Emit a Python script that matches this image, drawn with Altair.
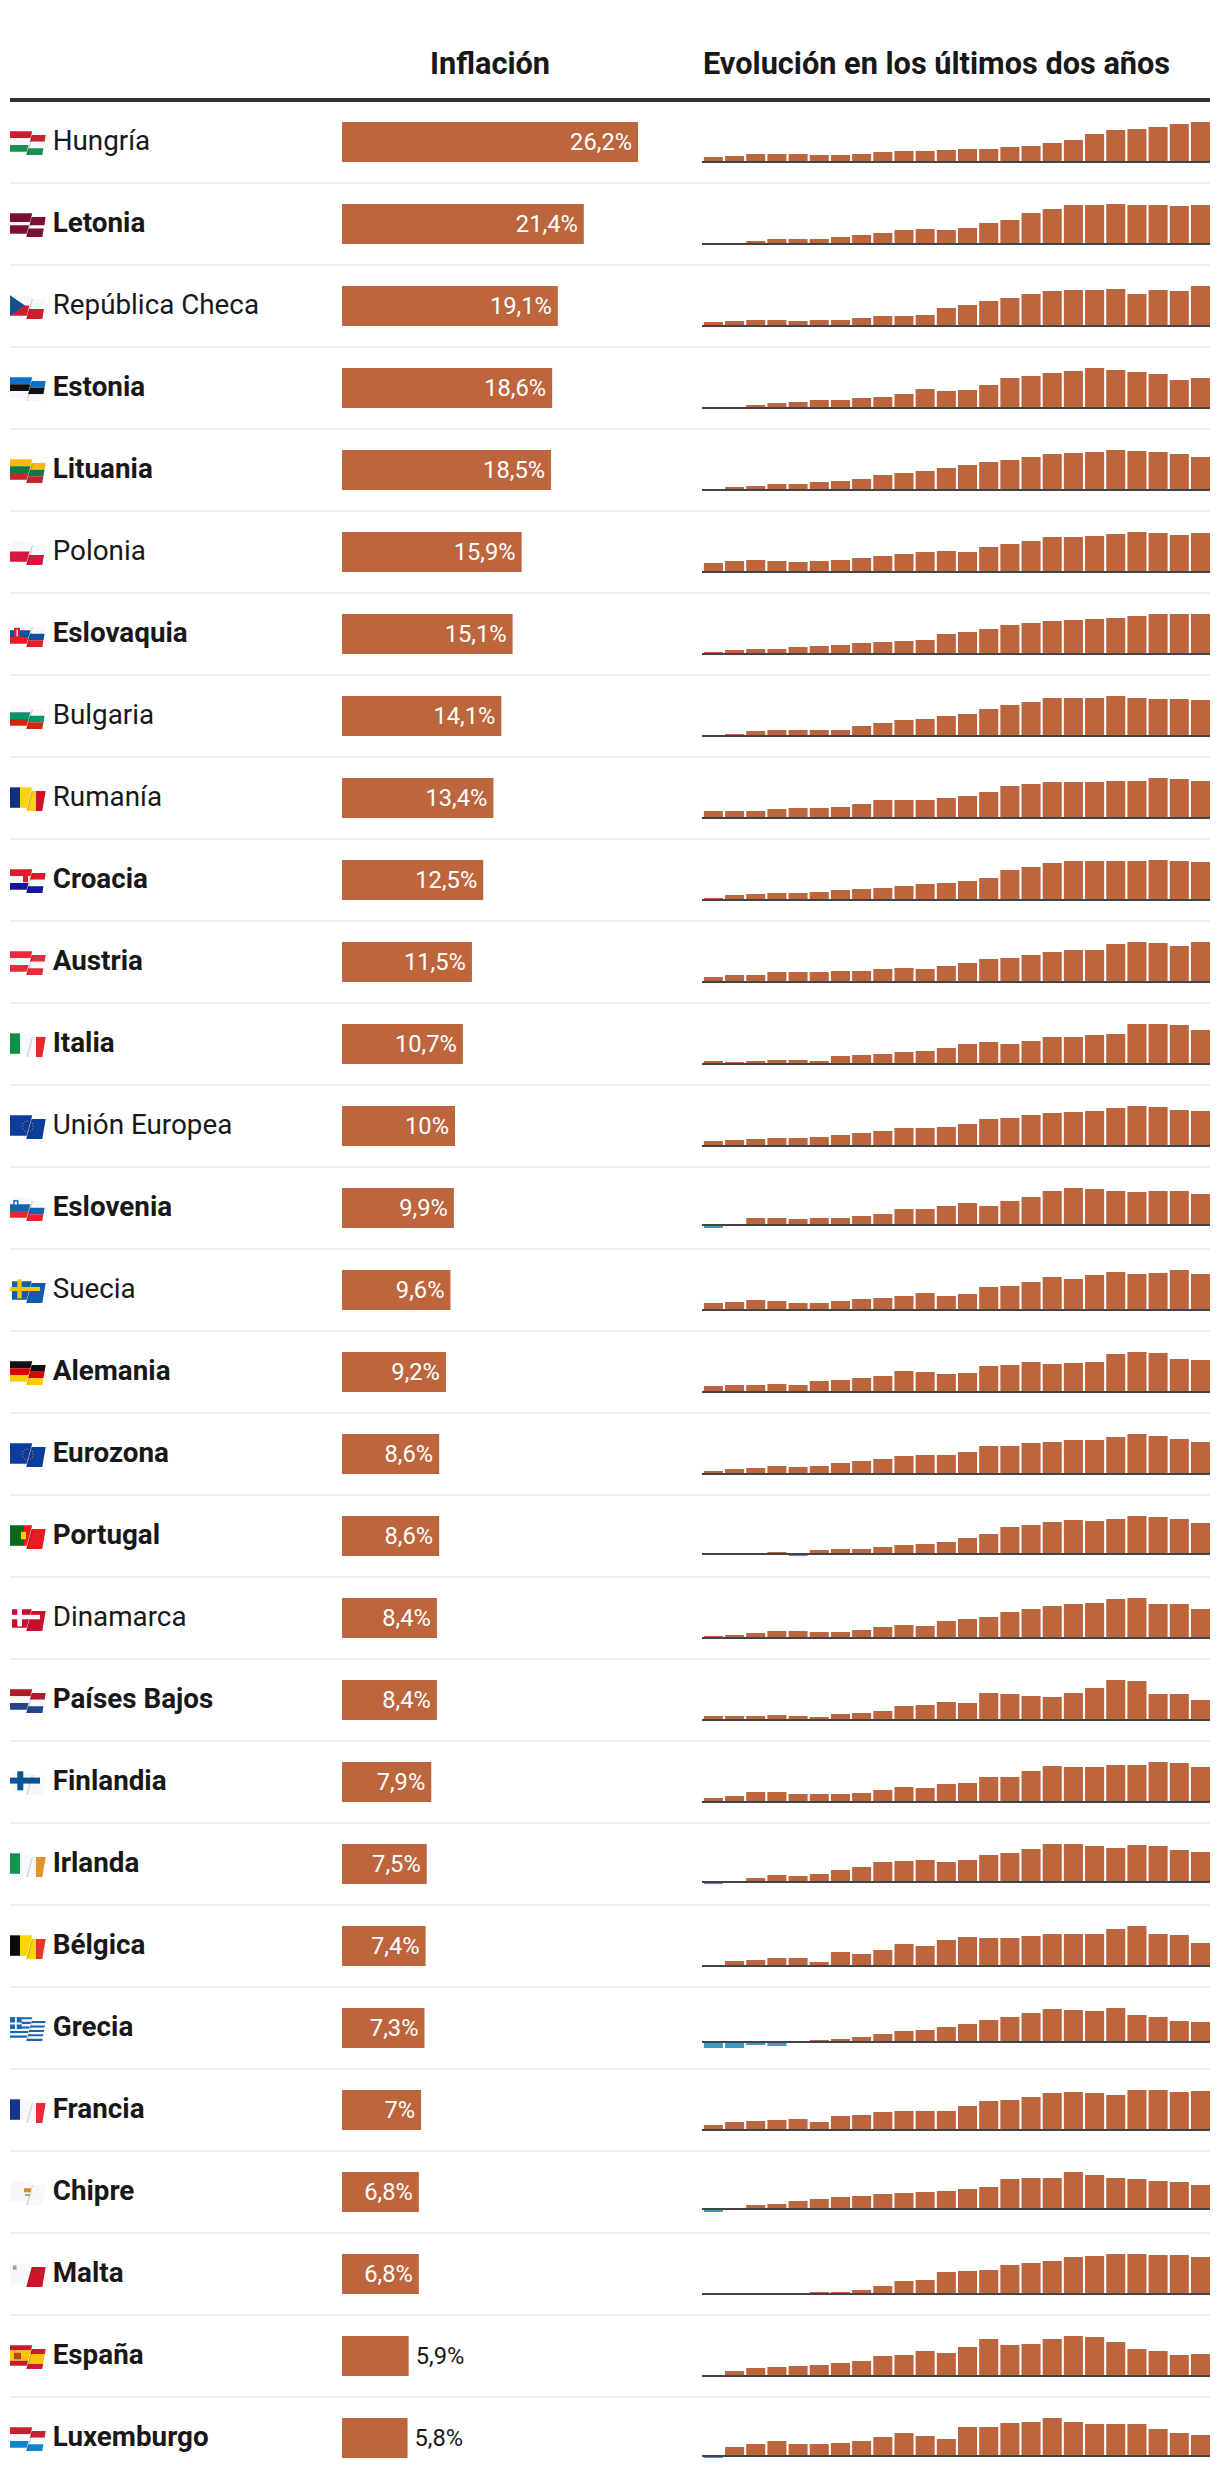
import math
import altair as alt
import pandas as pd

NAMES = ["Hungría","Letonia","República Checa","Estonia","Lituania","Polonia","Eslovaquia","Bulgaria","Rumanía","Croacia","Austria","Italia","Unión Europea","Eslovenia","Suecia","Alemania","Eurozona","Portugal","Dinamarca","Países Bajos","Finlandia","Irlanda","Bélgica","Grecia","Francia","Chipre","Malta","España","Luxemburgo"]
LATEST = [26.2,21.4,19.1,18.6,18.5,15.9,15.1,14.1,13.4,12.5,11.5,10.7,10,9.9,9.6,9.2,8.6,8.6,8.4,8.4,7.9,7.5,7.4,7.3,7,6.8,6.8,5.9,5.8]
PLAIN = {"Hungría","República Checa","Polonia","Bulgaria","Rumanía","Unión Europea","Suecia","Dinamarca"}

# Monthly bars; each row has its own unlabelled scale,
# calibrated below with the row's labelled latest value.
READINGS = [
 [4,5,7,7,7,6,6,7,9,10,10,11,12,12,14,15,18,21,27,31,32,34,37,39],
 [0,0,2,4,4,4,6,8,10,13,14,13,15,20,23,30,34,38,38,39,38,38,37,38],
 [3,4,5,5,4,5,5,7,9,9,10,17,20,24,27,31,34,35,35,36,31,35,34,39],
 [0,0,2,4,5,7,7,9,10,13,18,16,17,22,29,31,34,36,39,37,35,33,27,29],
 [0,2,3,5,5,7,8,10,14,16,18,21,24,27,29,32,35,36,37,39,38,37,35,32],
 [8,10,11,10,9,10,11,13,15,17,19,20,19,24,27,30,34,34,35,37,39,38,36,38],
 [1,3,4,4,6,7,8,10,11,12,13,19,21,24,28,30,32,33,34,35,37,39,39,39],
 [0,1,4,5,5,5,5,9,12,15,16,19,21,26,30,33,37,37,37,39,37,36,36,35],
 [6,6,6,8,9,9,10,13,17,17,17,19,21,25,31,33,35,35,35,36,36,39,38,36],
 [1,4,5,6,6,7,9,10,11,13,15,16,18,21,29,32,36,38,38,38,38,39,38,37],
 [4,6,6,9,9,9,10,10,12,13,12,15,18,22,23,26,29,31,31,37,39,38,35,39],
 [2,1,2,3,3,2,7,8,9,11,12,15,19,21,19,22,26,26,28,29,39,39,38,33],
 [4,5,6,7,7,8,10,12,14,17,17,18,21,26,27,30,32,33,34,37,39,38,35,34],
 [-4,0,6,6,5,6,6,8,10,15,15,18,21,18,23,27,33,36,35,33,32,33,33,30],
 [6,7,9,8,6,6,8,10,11,13,16,13,15,22,23,27,32,30,34,37,35,36,39,35],
 [5,6,6,7,6,10,11,13,15,20,19,17,18,25,26,29,27,28,29,37,39,38,32,31],
 [2,4,5,7,6,7,10,12,14,17,18,18,21,27,27,30,31,33,33,36,39,37,34,31],
 [0,0,0,1,-3,3,4,4,6,8,9,11,15,19,26,28,31,33,32,34,37,36,34,30],
 [1,2,4,6,6,5,5,7,10,12,11,16,18,20,25,28,31,33,34,38,39,33,33,28],
 [3,3,3,4,3,2,5,6,8,13,14,17,16,26,25,23,22,26,31,39,38,25,25,19],
 [3,5,9,9,7,7,7,8,11,14,13,17,18,24,24,30,35,34,34,36,36,39,38,34],
 [-3,0,3,6,5,7,11,14,19,20,21,19,21,26,28,32,37,37,35,33,36,35,31,29],
 [0,4,5,7,7,3,13,11,15,21,19,25,28,27,27,29,31,31,31,36,39,31,30,22],
 [-7,-7,-4,-5,0,1,2,4,7,10,11,14,17,21,24,28,32,31,30,33,26,24,20,19],
 [4,7,8,9,10,7,13,14,17,18,18,18,23,28,29,32,36,37,36,34,39,39,37,38],
 [-4,0,3,4,7,9,11,12,14,15,16,17,19,21,29,30,30,36,33,30,29,27,26,23],
 [0,0,0,0,0,1,1,3,7,12,13,21,22,23,28,30,32,36,37,39,39,38,38,36],
 [0,4,7,8,9,10,12,14,19,20,24,22,28,36,30,31,36,39,38,33,26,24,20,21],
 [-3,8,11,14,11,11,12,14,18,22,19,16,28,28,32,33,37,33,31,31,31,26,22,20],
]
assert all(len(r) == 24 for r in READINGS) and len(READINGS) == len(NAMES)

ORANGE, BLUE, INK, AXIS, SEP, HEAD = "#bd663e", "#3e9ac4", "#181818", "#444444", "#eeeeee", "#333333"
FONT = "Roboto"
W = "#f7f8fb"
FW = 36  # flag artwork width

# --- flag artwork ----------------------------------------------------------
# stripes: (colour, x0, x1, v0, v1, side) folded across the two flag leaves;
# overlays: ("O", colour, polygon) drawn flat on top.
def hs(*cols, fr=None):
    n = len(cols)
    fr = fr or [i / n for i in range(n + 1)]
    return [(c, 0, FW, fr[i], fr[i + 1], "B") for i, c in enumerate(cols)]
def vs(*cols, xs=(0, 10, 26, FW)):
    return [(c, xs[i], xs[i + 1], 0, 1, "B") for i, c in enumerate(cols)]
def box(c, x0, y0, x1, y1):
    return ("O", c, [(x0, y0), (x1, y0), (x1, y1), (x0, y1)])
def cross(body, bar, vx, hy):
    return [(body, 2, FW, .1, 1, "L"), (body, 0, FW, 0, 1, "R"),
            box(bar, vx[0], 0, vx[1], 19), box(bar, 0, hy[0], 30, hy[1])]
def eu_flag():
    out = [("#0c3d9e", 0, FW, 0, 1, "B")]
    for k in range(12):
        a = 2 * math.pi * k / 12
        cx, cy = 17.7 + 5.5 * math.cos(a), 11 + 5.5 * math.sin(a)
        out.append(box("#b89a30", cx - .5, cy - .5, cx + .5, cy + .5))
    return out

RED, GREEN_H, NAVY = "#c8202f", "#17914f", "#21468b"
FLAGS = {
 "Hungría": hs(RED, W, GREEN_H),
 "Letonia": hs("#7b1230", W, "#7b1230", fr=[0, .42, .58, 1]),
 "República Checa": hs(W, "#cc2030") + [("O", "#14508c", [(0, 0), (15, 10.25), (0, 20.5)])],
 "Estonia": hs("#0b72ce", "#111111", W),
 "Lituania": hs("#fdb913", "#0a7a4a", "#c1272d"),
 "Polonia": hs(W, "#d8173c"),
 "Eslovaquia": hs(W, "#0b4ea2", "#e41c25") + [box("#d8202a", 4, 4.5, 10, 15), box(W, 6.5, 6.5, 7.8, 13)],
 "Bulgaria": hs(W, "#00966e", "#d62612"),
 "Rumanía": vs("#0f2f80", "#fcd116", "#ce1126"),
 "Croacia": hs("#d8202a", W, "#171796") + [box("#d8202a", 13, 5, 18, 13)],
 "Austria": hs("#e52b3c", W, "#e52b3c"),
 "Italia": vs("#0e8f4a", W, "#e8262a"),
 "Unión Europea": eu_flag(),
 "Eslovenia": hs(W, "#1a5fb0", "#e8262a") + [box("#1a5fb0", 3.2, 2.8, 8.4, 8.5), box(W, 4.6, 4.2, 7, 7.2)],
 "Suecia": cross("#0f5fae", "#fbc40a", (7.3, 11.7), (7.7, 11.7)),
 "Alemania": hs("#111111", "#dd0000", "#ffce00"),
 "Eurozona": eu_flag(),
 "Portugal": vs("#0a6a1c", "#e81c1c", xs=(0, 14, FW)) + [box("#ffcc00", 11, 6.5, 16, 14)],
 "Dinamarca": cross("#c8102e", W, (7.3, 12), (7.5, 12)),
 "Países Bajos": hs("#ae1c28", W, NAVY),
 "Finlandia": cross(W, "#0a5496", (7.3, 13.3), (6.3, 12.3)),
 "Irlanda": vs("#12934f", W, "#e09428"),
 "Bélgica": vs("#0c0c0c", "#ffd500", "#e4352a"),
 "Grecia": hs(*["#1b66b3", W] * 4 + ["#1b66b3"]) + [box("#1b66b3", 0, 0, 11.7, 11.7), box(W, 0, 5.2, 11.7, 7.2), box(W, 5, 0, 6.8, 11.7)],
 "Francia": vs("#14348f", W, "#ed2939"),
 "Chipre": vs(W, W, W) + [box("#d98a2a", 14, 7, 21, 11), box("#7a9a5a", 15, 13, 20, 14.5)],
 "Malta": [("#cf142b", 0, FW, 0, 1, "R"), (W, 0, FW, 0, 1, "L"), box("#b09a9a", 3, 2.2, 6.5, 6.5)],
 "España": hs("#c61f2b", "#ffc400", "#c61f2b", fr=[0, .25, .75, 1]) + [box("#b5452a", 4, 7.5, 11, 14)],
 "Luxemburgo": hs(RED, W, "#0f85cc"),
}

def left_lim(v): return 22.3 - 5.6 * v
def right_lo(v): return 21.7 - 5.4 * v
def right_hi(v): return 35.7 - 3.4 * v

def path(pts):
    return "M" + "L".join(f"{x:.2f},{y:.2f}" for x, y in pts) + "Z"

def flag_frame(name):
    right, left, over = [], [], []
    for it in FLAGS[name]:
        if it[0] == "O":
            over.append((it[1], path(it[2]), 1.0))
            continue
        c, x0, x1, v0, v1, side = it
        if side in "BL" and x0 < left_lim(0):
            a, b = left_lim(v0), left_lim(v1)
            left.append((c, path([(min(x0, a), 20.5 * v0), (min(x1, a), 20.5 * v0),
                                  (min(x1, b), 20.5 * v1), (min(x0, b), 20.5 * v1)]), 1.0))
        if side in "BR" and x1 > right_lo(1):
            cl = lambda x, v: max(right_lo(v), min(x, right_hi(v)))
            right.append((c, path([(cl(x0, v0), 3.7 + 20 * v0), (cl(x1, v0), 3.7 + 20 * v0),
                                   (cl(x1, v1), 3.7 + 20 * v1), (cl(x0, v1), 3.7 + 20 * v1)]), 1.0))
    fold = [("#000000", path([(right_lo(0), 3.7), (right_lo(0) + 1.5, 3.7),
                              (right_lo(1) + 1.5, 23.7), (right_lo(1), 23.7)]), .14)]
    return pd.DataFrame(right + left + fold + over, columns=["color", "shape", "o"])

# --- panels ---------------------------------------------------------------
SPARK_W, FULL_W = 508, 1202

def spark(i):
    raw = READINGS[i]
    px = [r + 1 if r != 0 else 0 for r in raw]   # the axis stroke hides one unit
    k = LATEST[i] / px[-1]
    vals = [p * k for p in px]
    df = pd.DataFrame({"mes": list(range(24)), "v": vals,
                       "c": [ORANGE if v >= 0 else BLUE for v in vals]})
    y_scale = alt.Scale(domain=[min(0, min(vals)), max(vals)], nice=False, zero=False, range=[40, 0])
    bars = alt.Chart(df).mark_bar().encode(
        x=alt.X("mes:O", axis=None, scale=alt.Scale(paddingInner=.1, paddingOuter=0, range=[1.86, SPARK_W])),
        y=alt.Y("v:Q", axis=None, scale=y_scale),
        color=alt.Color("c:N", scale=None),
    )
    line = alt.Chart(pd.DataFrame({"z": [0.0]})).mark_rule(color=AXIS, strokeWidth=2).encode(
        y=alt.Y("z:Q", axis=None, scale=y_scale), x=alt.value(0), x2=alt.value(SPARK_W))
    return alt.layer(bars, line).properties(width=SPARK_W, height=40)

def bar_panel(i):
    v = LATEST[i]
    lab = f"{v:g}".replace(".", ",") + "%"
    df = pd.DataFrame({"v": [v], "t": [lab]})
    x = alt.X("v:Q", axis=None, scale=alt.Scale(domain=[0, 360 / 11.3], range=[0, 360], nice=False))
    b = alt.Chart(df).mark_bar(size=40, color=ORANGE).encode(x=x)
    inside = v >= 6.5
    t = alt.Chart(df).mark_text(font=FONT, fontSize=23.7, baseline="alphabetic",
                                align="right" if inside else "left", dx=-6 if inside else 7, dy=0,
                                color="white" if inside else INK).encode(
        x=x, y=alt.value(28), text="t:N")
    return alt.layer(b, t).properties(width=360, height=40)

def label_panel(i):
    name = NAMES[i]
    t = alt.Chart(pd.DataFrame({"n": [name]})).mark_text(
        font=FONT, fontSize=27.8, align="left", baseline="alphabetic", color=INK,
        fontWeight="normal" if name in PLAIN else "bold").encode(
        x=alt.value(44.7), y=alt.value(27.5), text="n:N")
    f = alt.Chart(flag_frame(name)).mark_point(filled=True, strokeWidth=0).encode(
        x=alt.value(2), y=alt.value(9.3), shape=alt.Shape("shape:N", scale=None, legend=None),
        color=alt.Color("color:N", scale=None), opacity=alt.Opacity("o:Q", scale=None, legend=None),
        size=alt.value(4))
    layers = [f, t]
    if i < len(NAMES) - 1:
        layers.append(alt.Chart(pd.DataFrame({"a": [0]})).mark_rule(color=SEP, strokeWidth=2).encode(
            x=alt.value(2), x2=alt.value(FULL_W), y=alt.value(61)))
    return alt.layer(*layers).properties(width=334, height=40)

HEADERS = ["Inflación", "Evolución en los últimos dos años"]
h1 = alt.Chart(pd.DataFrame({"t": [HEADERS[0]]})).mark_text(
    font=FONT, fontSize=30.7, fontWeight="bold", align="center", baseline="alphabetic", color=INK
).encode(x=alt.value(482), y=alt.value(66), text="t:N")
h2 = alt.Chart(pd.DataFrame({"t": [HEADERS[1]]})).mark_text(
    font=FONT, fontSize=30.7, fontWeight="bold", align="left", baseline="alphabetic", color=INK
).encode(x=alt.value(695), y=alt.value(66), text="t:N")
hr = alt.Chart(pd.DataFrame({"a": [0]})).mark_rule(color=HEAD, strokeWidth=4).encode(
    x=alt.value(2), x2=alt.value(FULL_W), y=alt.value(92))
header = alt.layer(h1, h2, hr).properties(width=FULL_W, height=72)

rows = [alt.hconcat(label_panel(i), bar_panel(i), spark(i), spacing=0, bounds="flush")
        for i in range(len(NAMES))]
table = alt.vconcat(*rows, spacing=82, bounds="flush")
chart = alt.vconcat(header, table, spacing=42, bounds="flush").properties(padding=0).configure_view(stroke=None)
chart.save("out.html", embed_options={"renderer": "svg", "actions": False})
